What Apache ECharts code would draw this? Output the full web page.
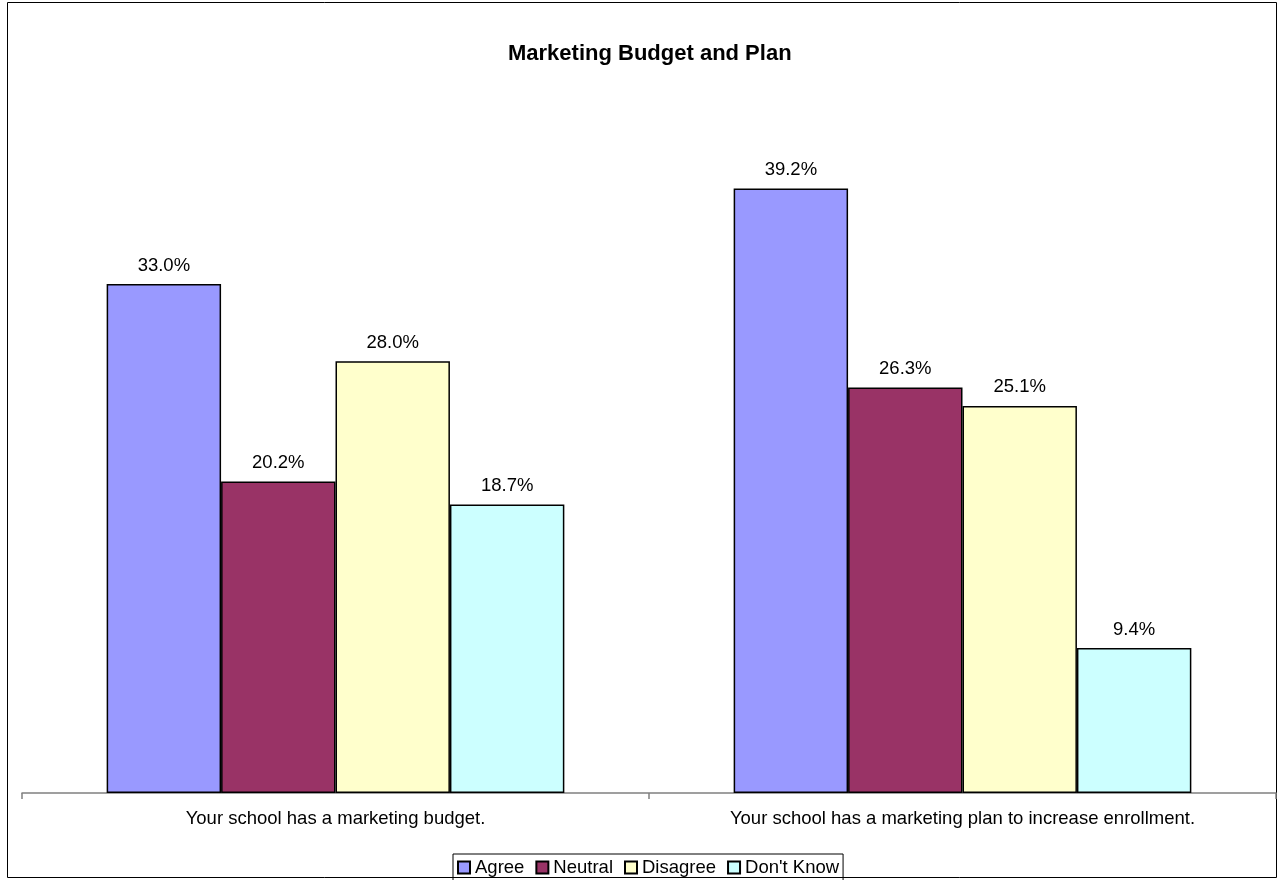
<!DOCTYPE html>
<html>
<head>
<meta charset="utf-8">
<script src="https://cdn.jsdelivr.net/npm/echarts@6/dist/echarts.min.js"></script>
<style>
  html, body { margin: 0; padding: 0; background: #fff; }
  #main { width: 1279px; height: 880px; }
</style>
</head>
<body>
<div id="main"></div>
<script>
const categories = ['Your school has a marketing budget.', 'Your school has a marketing plan to increase enrollment.'];
const agree = [33.0, 39.2];
const neutral = [20.2, 26.3];
const disagree = [28.0, 25.1];
const dontKnow = [18.7, 9.4];

const font = 'Arial, "Liberation Sans", sans-serif';

function barSeries(name, data, color) {
  return {
    name: name,
    type: 'bar',
    data: data,
    barGap: '0%',
    barCategoryGap: '27%',
    itemStyle: { color: color, borderColor: '#000', borderWidth: 1.5 },
    label: {
      show: true,
      position: 'top',
      distance: 9,
      color: '#000',
      fontFamily: font,
      fontSize: 18.5,
      formatter: p => p.value.toFixed(1) + '%'
    }
  };
}

let myChart = echarts.init(document.getElementById('main'));
let option = {
  animation: false,
  title: {
    text: 'Marketing Budget and Plan',
    left: 503,
    top: 38,
    textStyle: { fontFamily: font, fontSize: 22, fontWeight: 'bold', color: '#000' }
  },
  legend: {
    bottom: -1,
    left: 453,
    itemWidth: 12,
    itemHeight: 12,
    itemGap: 11,
    borderColor: '#000',
    borderWidth: 1,
    padding: [4, 4],
    icon: 'rect',
    textStyle: { fontFamily: font, fontSize: 18.5, color: '#000' }
  },
  grid: { left: 22, right: 3, top: 99, height: 694 },
  xAxis: {
    type: 'category',
    data: categories,
    axisLine: { lineStyle: { color: '#808080', width: 1.5 } },
    axisTick: { show: true, length: 6, lineStyle: { color: '#808080', width: 1.5 } },
    axisLabel: { color: '#000', fontFamily: font, fontSize: 18.5, margin: 16 }
  },
  yAxis: {
    type: 'value',
    min: 0,
    max: 45,
    show: false
  },
  graphic: [{
    type: 'rect',
    shape: { x: 7.5, y: 2.5, width: 1269, height: 875 },
    style: { fill: 'none', stroke: '#000', lineWidth: 1 },
    silent: true
  }],
  series: [
    barSeries('Agree', agree, '#9999FF'),
    barSeries('Neutral', neutral, '#993366'),
    barSeries('Disagree', disagree, '#FFFFCC'),
    barSeries("Don't Know", dontKnow, '#CCFFFF')
  ]
};
myChart.setOption(option);
</script>
</body>
</html>
